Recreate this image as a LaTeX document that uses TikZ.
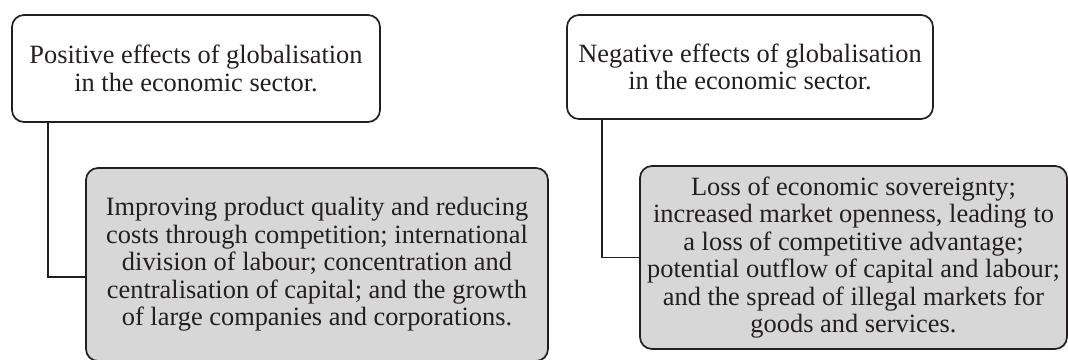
\documentclass[tikz,border=0pt]{standalone}
\usepackage{fontspec}
\setmainfont{Liberation Serif}
\definecolor{boxgray}{RGB}{215,215,215}
\definecolor{ink}{RGB}{35,31,32}
\begin{document}
\begin{tikzpicture}[x=1pt,y=-1pt,
  box/.style={draw=ink, text=ink, line width=1.7pt, rounded corners=12pt, align=center, inner sep=0pt, font=\fontsize{26.4}{27.5}\selectfont},
  graybox/.style={box, fill=boxgray},
  link/.style={draw=ink, line width=1.7pt}]
\clip (0,0) rectangle (1068,359);
\node[box, minimum width=368pt, minimum height=107pt] (pos) at (196,68.5)
  {Positive effects of globalisation\\in the economic sector.};
\node[graybox, minimum width=462pt, minimum height=193pt] (posd) at (317,264.5)
  {Improving product quality and reducing\\costs through competition; international\\division of labour; concentration and\\centralisation of capital; and the growth\\of large companies and corporations.};
\node[box, minimum width=366pt, minimum height=104pt] (neg) at (750,67)
  {Negative effects of globalisation\\in the economic sector.};
\node[graybox, minimum width=427pt, minimum height=183pt] (negd) at (853.5,257.5)
  {Loss of economic sovereignty;\\increased market openness, leading to\\a loss of competitive advantage;\\potential outflow of capital and labour;\\and the spread of illegal markets for\\goods and services.};
\draw[link] ([xshift=37pt]pos.south west) |- ([yshift=-12.5pt]posd.west);
\draw[link] ([xshift=36pt]neg.south west) |- (negd.west);
\end{tikzpicture}
\end{document}
